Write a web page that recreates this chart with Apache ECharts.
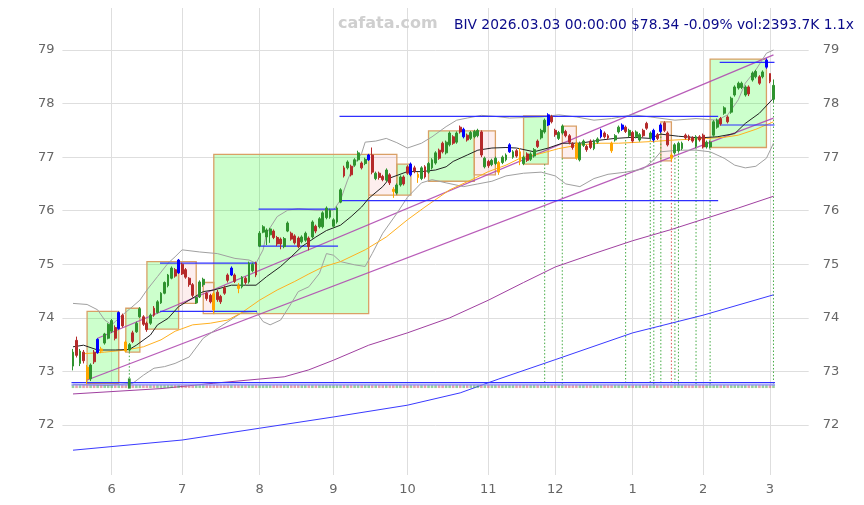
<!DOCTYPE html>
<html><head><meta charset="utf-8">
<script src="https://cdn.jsdelivr.net/npm/echarts@6/dist/echarts.min.js"></script>
<style>html,body{margin:0;padding:0;background:#fff}#c{width:864px;height:505px}</style>
</head><body><div id="c"></div>
<script>
const PAD_L = 3, PAD_R = 10, NREAL = 200;
const monthLabels = ['6','7','8','9','10','11','12','1','2','3'];
const monthStartIdx = [11,31,53,74,95,118,137,159,179,198];
const holidays = ['2025-05-26','2025-06-19','2025-07-04','2025-09-01','2025-11-27','2025-12-25','2026-01-01','2026-01-19','2026-02-16'];

const opens = [73.10,73.58,73.15,73.36,73.08,72.86,73.36,73.35,73.42,73.53,
73.62,73.75,73.82,73.80,74.05,73.55,73.40,73.72,73.74,74.02,
74.02,73.90,73.90,74.18,74.10,74.28,74.46,74.60,74.74,74.90,
74.84,75.00,74.90,74.74,74.62,74.28,74.39,74.62,74.46,74.42,
74.45,74.48,74.40,74.56,74.80,74.80,74.80,74.60,74.58,74.74,
74.67,74.88,75.02,75.34,75.60,75.51,75.55,75.62,75.50,75.47,
75.33,75.62,75.58,75.53,75.49,75.42,75.45,75.49,75.51,75.71,
75.70,75.70,75.87,75.88,75.71,75.79,76.16,76.80,76.80,76.83,
76.85,76.95,76.89,76.88,76.95,77.04,76.60,76.70,76.64,76.57,
76.67,76.40,76.33,76.48,76.63,76.82,76.67,76.80,76.68,76.60,
76.82,76.72,76.80,76.89,77.13,77.26,77.08,77.23,77.38,77.28,
77.56,77.38,77.41,77.35,77.38,77.40,77.47,76.82,76.92,76.86,
76.88,76.90,76.90,76.95,77.10,77.00,77.12,77.10,76.88,77.06,
76.96,77.02,77.30,77.36,77.47,77.60,77.76,77.50,77.35,77.45,
77.48,77.40,77.25,77.26,76.95,77.22,77.20,77.30,77.16,77.28,
77.38,77.45,77.40,77.26,77.32,77.47,77.52,77.56,77.40,77.46,
77.38,77.32,77.50,77.63,77.36,77.32,77.42,77.48,77.64,77.45,
77.04,77.08,77.12,77.16,77.41,77.39,77.36,77.20,77.38,77.41,
77.19,77.19,77.41,77.56,77.72,77.82,77.75,77.84,78.16,78.29,
78.30,78.16,78.31,78.44,78.50,78.50,78.50,78.68,78.56,78.08];
const closes = [73.36,73.30,73.38,73.20,72.86,73.12,73.18,73.60,73.38,73.70,
73.88,73.95,73.62,74.10,73.85,73.38,73.50,73.56,73.90,74.17,
73.88,73.78,74.05,74.05,74.30,74.46,74.66,74.80,74.93,74.78,
75.08,74.82,74.76,74.62,74.42,74.38,74.67,74.72,74.36,74.30,
74.15,74.34,74.30,74.46,74.70,74.93,74.68,74.55,74.76,74.66,
75.02,75.00,74.80,75.58,75.70,75.64,75.66,75.50,75.38,75.38,
75.48,75.77,75.47,75.40,75.33,75.51,75.58,75.33,75.79,75.62,
75.85,75.96,76.05,76.01,75.83,76.05,76.39,76.65,76.91,76.67,
76.95,77.08,76.80,76.96,77.04,76.72,76.70,76.62,76.58,76.76,
76.52,76.36,76.48,76.63,76.50,76.70,76.87,76.74,76.62,76.80,
76.63,76.88,76.95,77.08,76.98,77.10,77.28,77.45,77.26,77.45,
77.47,77.52,77.32,77.46,77.48,77.50,77.04,76.98,76.84,76.94,
76.98,76.72,77.00,77.04,77.23,77.10,77.02,76.92,77.00,76.94,
77.06,77.14,77.20,77.50,77.69,77.79,77.66,77.42,77.46,77.58,
77.40,77.28,77.18,76.98,77.26,77.30,77.14,77.18,77.30,77.34,
77.50,77.38,77.36,77.12,77.40,77.56,77.60,77.48,77.50,77.30,
77.47,77.42,77.40,77.54,77.45,77.50,77.35,77.60,77.50,77.23,
76.98,77.23,77.26,77.26,77.36,77.33,77.30,77.38,77.32,77.19,
77.28,77.28,77.66,77.69,77.62,77.92,77.66,78.10,78.31,78.38,
78.38,78.31,78.18,78.57,78.60,78.38,78.59,78.81,78.41,78.34];
const lows = [73.02,73.26,73.10,73.15,72.76,72.82,73.14,73.33,73.34,73.50,
73.60,73.72,73.58,73.78,73.82,73.36,73.37,73.53,73.72,74.00,
73.85,73.74,73.87,74.02,74.08,74.26,74.44,74.57,74.72,74.75,
74.82,74.80,74.73,74.58,74.38,74.26,74.37,74.58,74.32,74.27,
74.08,74.30,74.26,74.43,74.66,74.78,74.65,74.46,74.55,74.62,
74.64,74.85,74.76,75.32,75.58,75.36,75.40,75.47,75.34,75.28,
75.30,75.60,75.44,75.37,75.30,75.39,75.42,75.26,75.48,75.58,
75.67,75.67,75.84,75.85,75.68,75.76,76.14,76.62,76.77,76.64,
76.82,76.92,76.77,76.85,76.93,76.68,76.57,76.58,76.55,76.54,
76.48,76.24,76.30,76.45,76.47,76.67,76.64,76.70,76.52,76.57,
76.60,76.69,76.77,76.86,76.95,77.07,77.05,77.20,77.23,77.25,
77.44,77.35,77.29,77.32,77.35,77.37,77.00,76.79,76.80,76.83,
76.85,76.67,76.87,76.92,77.08,76.97,76.99,76.85,76.85,76.91,
76.93,76.99,77.17,77.33,77.44,77.58,77.63,77.38,77.32,77.42,
77.37,77.24,77.14,76.95,76.92,77.19,77.10,77.15,77.13,77.25,
77.35,77.35,77.33,77.08,77.29,77.44,77.49,77.45,77.37,77.27,
77.35,77.29,77.37,77.51,77.33,77.29,77.32,77.45,77.47,77.20,
76.92,77.05,77.09,77.13,77.33,77.30,77.27,77.17,77.29,77.16,
77.16,77.16,77.38,77.53,77.59,77.79,77.63,77.81,78.13,78.26,
78.27,78.13,78.14,78.41,78.47,78.35,78.47,78.65,78.38,78.03];
const highs = [73.42,73.65,73.42,73.40,73.12,73.15,73.40,73.62,73.46,73.72,
73.90,73.98,73.86,74.12,74.08,73.58,73.53,73.76,73.93,74.20,
74.05,73.93,74.08,74.22,74.33,74.48,74.68,74.82,74.96,74.93,
75.10,75.03,74.93,74.76,74.65,74.40,74.70,74.75,74.48,74.45,
74.48,74.52,74.43,74.60,74.83,74.96,74.83,74.65,74.78,74.77,
75.05,75.03,75.05,75.62,75.73,75.67,75.68,75.65,75.53,75.50,
75.51,75.80,75.61,75.56,75.52,75.54,75.61,75.52,75.82,75.74,
75.88,75.99,76.08,76.04,75.86,76.08,76.42,76.84,76.94,76.86,
76.98,77.12,76.92,76.99,77.06,77.18,76.73,76.73,76.67,76.79,
76.70,76.44,76.51,76.66,76.66,76.85,76.90,76.84,76.72,76.83,
76.85,76.91,76.98,77.11,77.16,77.29,77.31,77.48,77.41,77.48,
77.59,77.55,77.44,77.49,77.51,77.53,77.50,77.01,76.95,76.97,
77.01,76.93,77.03,77.07,77.26,77.13,77.15,77.17,77.03,77.09,
77.09,77.17,77.33,77.53,77.72,77.82,77.79,77.53,77.49,77.61,
77.51,77.43,77.28,77.29,77.29,77.33,77.23,77.33,77.33,77.37,
77.53,77.48,77.43,77.29,77.43,77.59,77.63,77.59,77.53,77.49,
77.50,77.45,77.53,77.66,77.48,77.53,77.45,77.63,77.67,77.48,
77.07,77.26,77.29,77.29,77.44,77.42,77.39,77.41,77.41,77.44,
77.31,77.31,77.69,77.72,77.75,77.95,77.78,78.13,78.34,78.41,
78.41,78.34,78.34,78.60,78.63,78.53,78.62,78.84,78.56,78.45];

const blueIdx = [7,13,30,45,84,96,111,124,135,150,156,165,167,197];
const orangeIdx = [4,8,15,40,47,91,98,121,127,143,153,170];

// indicator lines: [candle index, price]
const maShort = [[0,73.46],[3,73.49],[7,73.40],[12,73.40],[16,73.41],[18,73.49],[22,73.68],[24,73.87],[27,73.99],[30,74.21],[34,74.37],[37,74.49],[40,74.52],[45,74.61],[49,74.61],[52,74.61],[55,74.77],[59,74.96],[62,75.14],[65,75.33],[69,75.51],[72,75.63],[76,75.73],[79,75.89],[82,76.07],[84,76.23],[88,76.45],[90,76.61],[95,76.73],[99,76.73],[103,76.76],[106,76.82],[108,76.92],[112,77.04],[115,77.13],[119,77.17],[123,77.18],[126,77.17],[131,77.10],[135,77.17],[139,77.26],[144,77.26],[150,77.32],[154,77.35],[159,77.37],[164,77.35],[167,77.43],[172,77.39],[178,77.36],[183,77.38],[188,77.44],[191,77.63],[195,77.82],[199,78.10]];
const maMid = [[3,73.33],[9,73.36],[15,73.40],[20,73.46],[25,73.59],[29,73.75],[34,73.87],[39,73.90],[44,73.96],[48,74.10],[53,74.33],[58,74.52],[63,74.68],[67,74.82],[71,74.95],[76,75.05],[83,75.27],[89,75.51],[95,75.83],[100,76.07],[107,76.39],[113,76.57],[118,76.73],[123,76.85],[127,76.98],[133,77.07],[138,77.16],[144,77.23],[150,77.26],[155,77.26],[164,77.29],[171,77.32],[180,77.35],[185,77.37],[189,77.41],[194,77.52],[199,77.66]];
const maLong = [[0,72.58],[25,72.68],[40,72.78],[60,72.90],[67,73.03],[74,73.21],[84,73.49],[95,73.72],[107,74.00],[118,74.33],[128,74.66],[137,74.95],[148,75.20],[159,75.44],[170,75.65],[179,75.84],[189,76.05],[199,76.27]];
const maVeryLong = [[0,71.53],[31,71.72],[53,71.94],[74,72.15],[95,72.37],[110,72.60],[118,72.79],[121,72.86],[137,73.22],[159,73.72],[179,74.05],[199,74.43]];
const bbUpper = [[0,74.27],[4,74.25],[7,74.15],[9,73.96],[11,73.87],[12,73.93],[14,74.05],[16,74.16],[19,74.33],[21,74.52],[24,74.77],[27,75.02],[29,75.14],[31,75.27],[36,75.23],[41,75.20],[46,75.11],[50,75.08],[52,75.02],[54,75.27],[55,75.58],[58,75.89],[61,76.01],[64,76.04],[69,76.01],[74,76.01],[76,76.20],[78,76.57],[80,76.88],[82,77.07],[83,77.28],[86,77.30],[89,77.35],[92,77.27],[95,77.17],[99,77.26],[102,77.38],[106,77.57],[109,77.69],[112,77.73],[116,77.78],[120,77.76],[124,77.73],[133,77.75],[138,77.79],[143,77.75],[148,77.69],[153,77.72],[159,77.79],[164,77.75],[171,77.69],[177,77.72],[183,77.69],[186,77.79],[189,78.07],[191,78.38],[194,78.63],[197,78.94],[199,79.00]];
const bbLower = [[0,72.76],[10,72.74],[17,72.78],[20,72.93],[23,73.06],[26,73.09],[29,73.15],[33,73.27],[37,73.62],[41,73.80],[48,74.10],[52,74.12],[54,73.93],[56,73.87],[59,73.96],[62,74.27],[64,74.49],[67,74.58],[70,74.83],[72,75.20],[74,75.17],[76,75.05],[80,74.99],[83,74.96],[85,75.20],[88,75.58],[92,75.95],[95,76.25],[99,76.52],[102,76.58],[106,76.52],[111,76.45],[115,76.50],[119,76.55],[123,76.65],[128,76.70],[133,76.72],[137,76.65],[140,76.50],[144,76.45],[148,76.60],[152,76.68],[157,76.72],[162,76.78],[165,76.95],[167,77.10],[172,77.13],[177,77.13],[181,77.10],[185,76.98],[188,76.85],[191,76.80],[194,76.83],[197,76.98],[199,77.26]];
const trendUpper = [[7,73.62],[199,78.91]];
const trendLower = [[4,72.84],[199,77.73]];

// boxes: [startIdx, endIdx, top, bottom, kind(1 green / 0 pink)]
const boxes = [[4,13,74.12,72.78,1],[15,19,74.18,73.36,1],[21,30,75.05,73.79,1],[30,35,75.05,74.27,0],[37,40,74.66,74.08,0],[40,84,77.05,74.08,1],[84,92,77.05,76.29,0],[92,96,76.87,76.29,1],[101,114,77.49,76.55,1],[114,120,77.49,76.67,0],[128,135,77.77,76.87,1],[139,143,77.58,76.98,0],[167,170,77.66,76.93,0],[181,197,78.83,77.18,1]];
// horizontal level segments: [startIdx, endIdx, price]
const levels = [[25,52,75.02],[25,52,74.12],[53,75,76.03],[53,75,75.34],[76,183,77.76],[76,183,76.19],[184,199,78.77],[184,199,77.60]];
// vertical dotted signals: [idx, fromPrice, kind(1 green / 0 red)]
const signals = [[16,73.36,1],[134,76.87,1],[139,76.98,1],[157,77.32,1],[164,77.33,1],[165,77.29,1],[167,77.45,1],[170,76.93,0],[171,77.05,1],[172,77.09,1],[177,77.17,1],[181,77.16,1],[199,78.03,1]];
const stripLines = [72.79, 72.75];
const stripBase = 72.72;
const volumeSpike = [[16, 72.68, 72.87]];

function tradingDays(start, n) {
  const out = []; const d = new Date(start + 'T00:00:00Z');
  while (out.length < n) {
    const s = d.toISOString().slice(0,10); const wd = d.getUTCDay();
    if (wd !== 0 && wd !== 6 && !holidays.includes(s)) out.push(s);
    d.setUTCDate(d.getUTCDate() + 1);
  }
  return out;
}
const categories = [];
for (let k = 0; k < PAD_L; k++) categories.push('pl' + k);
tradingDays('2025-05-16', NREAL).forEach(s => categories.push(s));
for (let k = 0; k < PAD_R; k++) categories.push('pr' + k);
const N = categories.length;
const X = i => i + PAD_L;
const STEP = 3.52;

const candleData = [];
for (let k = 0; k < PAD_L; k++) candleData.push('-');
for (let i = 0; i < NREAL; i++) {
  const v = [opens[i], closes[i], lows[i], highs[i]];
  let col = null;
  if (blueIdx.includes(i)) col = '#0000ff'; else if (orangeIdx.includes(i)) col = '#ffa500';
  candleData.push(col ? {value: v, itemStyle: {color: col, color0: col, borderColor: col, borderColor0: col}} : v);
}
const toXY = arr => arr.map(p => [X(p[0]), p[1]]);
const monthSet = new Set(monthStartIdx.map(X));

function lineSeries(data, color, width, z, opacity) {
  return {type: 'line', data: toXY(data), showSymbol: false, symbol: 'none', silent: true, z: z || 2,
    lineStyle: {color: color, width: width, opacity: opacity == null ? 1 : opacity}};
}

const chart = echarts.init(document.getElementById('c'), null, {renderer: 'canvas'});
const yMin = 71.067, yMax = 79.784;
chart.setOption({
  animation: false,
  backgroundColor: '#fff',
  grid: {left: 62.44, top: 8, width: (N - 1) * STEP, height: 467, containLabel: false},
  xAxis: {
    type: 'category', data: categories, boundaryGap: false,
    axisLine: {show: false}, axisTick: {show: false},
    axisLabel: {interval: (idx) => monthSet.has(idx), formatter: (v, idx) => monthLabels[monthStartIdx.indexOf(idx - PAD_L)] || '',
      color: '#666', fontSize: 13, fontFamily: 'DejaVu Sans', margin: 8},
    splitLine: {show: true, interval: (idx) => monthSet.has(idx), lineStyle: {color: '#dedede', width: 1}}
  },
  yAxis: [{
    type: 'value', min: yMin, max: yMax, splitNumber: 9, position: 'left',
    axisLine: {show: false}, axisTick: {show: false},
    axisLabel: {showMinLabel: false, showMaxLabel: false, color: '#666', fontSize: 13, fontFamily: 'DejaVu Sans', margin: 8,
      formatter: v => (Math.abs(v - Math.round(v)) < 1e-6 ? String(Math.round(v)) : '')},
    splitLine: {show: true, lineStyle: {color: ['rgba(0,0,0,0)','#dedede','#dedede','#dedede','#dedede','#dedede','#dedede','#dedede','#dedede','rgba(0,0,0,0)'], width: 1}}
  }, {
    type: 'value', min: yMin, max: yMax, splitNumber: 9, position: 'right',
    axisLine: {show: false}, axisTick: {show: false}, splitLine: {show: false},
    axisLabel: {showMinLabel: false, showMaxLabel: false, color: '#666', fontSize: 13, fontFamily: 'DejaVu Sans', margin: 14,
      formatter: v => (Math.abs(v - Math.round(v)) < 1e-6 ? String(Math.round(v)) : '')}
  }],
  graphic: [
    {type: 'text', left: 338, top: 16, z: 100, style: {text: 'cafata.com', font: 'bold 16px "DejaVu Sans"', fill: '#cfcfcf'}},
    {type: 'text', left: 454, top: 18, z: 100, style: {text: 'BIV 2026.03.03 00:00:00 $78.34 -0.09% vol:2393.7K 1.1x', font: '13.8px "DejaVu Sans"', fill: '#0a0a8a'}}
  ],
  series: [
    {
      type: 'custom', z: 1, silent: true,
      data: boxes.map(b => [X(b[0]), b[2], X(b[1]), b[3], b[4]]),
      renderItem: (params, api) => {
        const p0 = api.coord([api.value(0), api.value(1)]);
        const p1 = api.coord([api.value(2), api.value(3)]);
        const green = api.value(4) === 1;
        return {type: 'rect', shape: {x: p0[0], y: p0[1], width: p1[0] - p0[0], height: p1[1] - p0[1]},
          style: {fill: green ? 'rgba(0,255,0,0.2)' : 'rgba(235,90,90,0.1)', stroke: '#d9a066', lineWidth: 1.3}};
      }
    },
    {
      type: 'custom', z: 2, silent: true,
      data: signals.map(s => [X(s[0]), s[1], s[2]]),
      renderItem: (params, api) => {
        const p0 = api.coord([api.value(0), api.value(1)]);
        const p1 = api.coord([api.value(0), stripLines[1]]);
        return {type: 'line', shape: {x1: p0[0], y1: p0[1], x2: p1[0], y2: p1[1]},
          style: {stroke: api.value(2) === 1 ? '#44aa44' : '#dd5555', lineWidth: 1, lineDash: [1.5, 2]}};
      }
    },
    lineSeries(maVeryLong, '#3a3aff', 1, 2),
    lineSeries(maLong, '#a040a0', 1, 2),
    lineSeries(trendUpper, '#b04ab0', 1.3, 2, 0.9),
    lineSeries(trendLower, '#b04ab0', 1.3, 2, 0.9),
    lineSeries(bbUpper, '#a0a0a0', 1, 2),
    lineSeries(bbLower, '#a0a0a0', 1, 2),
    lineSeries(maMid, '#ffb020', 1, 2),
    lineSeries(maShort, '#222222', 1, 3),
    {
      type: 'custom', z: 3, silent: true,
      data: levels.map(l => [X(l[0]), l[2], X(l[1])]),
      renderItem: (params, api) => {
        const p0 = api.coord([api.value(0), api.value(1)]);
        const p1 = api.coord([api.value(2), api.value(1)]);
        return {type: 'line', shape: {x1: p0[0] - 1, y1: p0[1], x2: p1[0] + 1, y2: p1[1]}, style: {stroke: '#2f2fff', lineWidth: 1.2}};
      }
    },
    {
      type: 'custom', z: 3, silent: true,
      data: opens.map((o, i) => [X(i), stripBase, closes[i] >= o ? 1 : 0]),
      renderItem: (params, api) => {
        const p = api.coord([api.value(0), api.value(1)]);
        const h = api.size([0, 0.06])[1];
        return {type: 'rect', shape: {x: p[0] - 1.3, y: p[1] - h / 2, width: 2.6, height: h},
          style: {fill: api.value(2) === 1 ? 'rgba(60,160,60,0.5)' : 'rgba(200,80,90,0.5)'}};
      }
    },
    {
      type: 'custom', z: 4, silent: true,
      data: stripLines.map(v => [X(0), v, X(NREAL - 1)]),
      renderItem: (params, api) => {
        const p0 = api.coord([api.value(0), api.value(1)]);
        const p1 = api.coord([api.value(2), api.value(1)]);
        return {type: 'line', shape: {x1: p0[0] - 1.5, y1: p0[1], x2: p1[0] + 1.5, y2: p1[1]},
          style: {stroke: params.dataIndex === 0 ? '#3030ff' : '#8a8aff', lineWidth: 1.3}};
      }
    },
    {
      type: 'custom', z: 5, silent: true,
      data: volumeSpike.map(v => [X(v[0]), v[1], v[2]]),
      renderItem: (params, api) => {
        const p0 = api.coord([api.value(0), api.value(2)]);
        const p1 = api.coord([api.value(0), api.value(1)]);
        return {type: 'rect', shape: {x: p0[0] - 1.4, y: p0[1], width: 2.8, height: p1[1] - p0[1]}, style: {fill: '#2f932f'}};
      }
    },
    {
      type: 'candlestick', z: 6, data: candleData, barWidth: 2.4, silent: true,
      itemStyle: {color: '#2f932f', color0: '#b52a2a', borderColor: '#2f932f', borderColor0: '#b52a2a', borderWidth: 1}
    }
  ]
});
</script></body></html>
